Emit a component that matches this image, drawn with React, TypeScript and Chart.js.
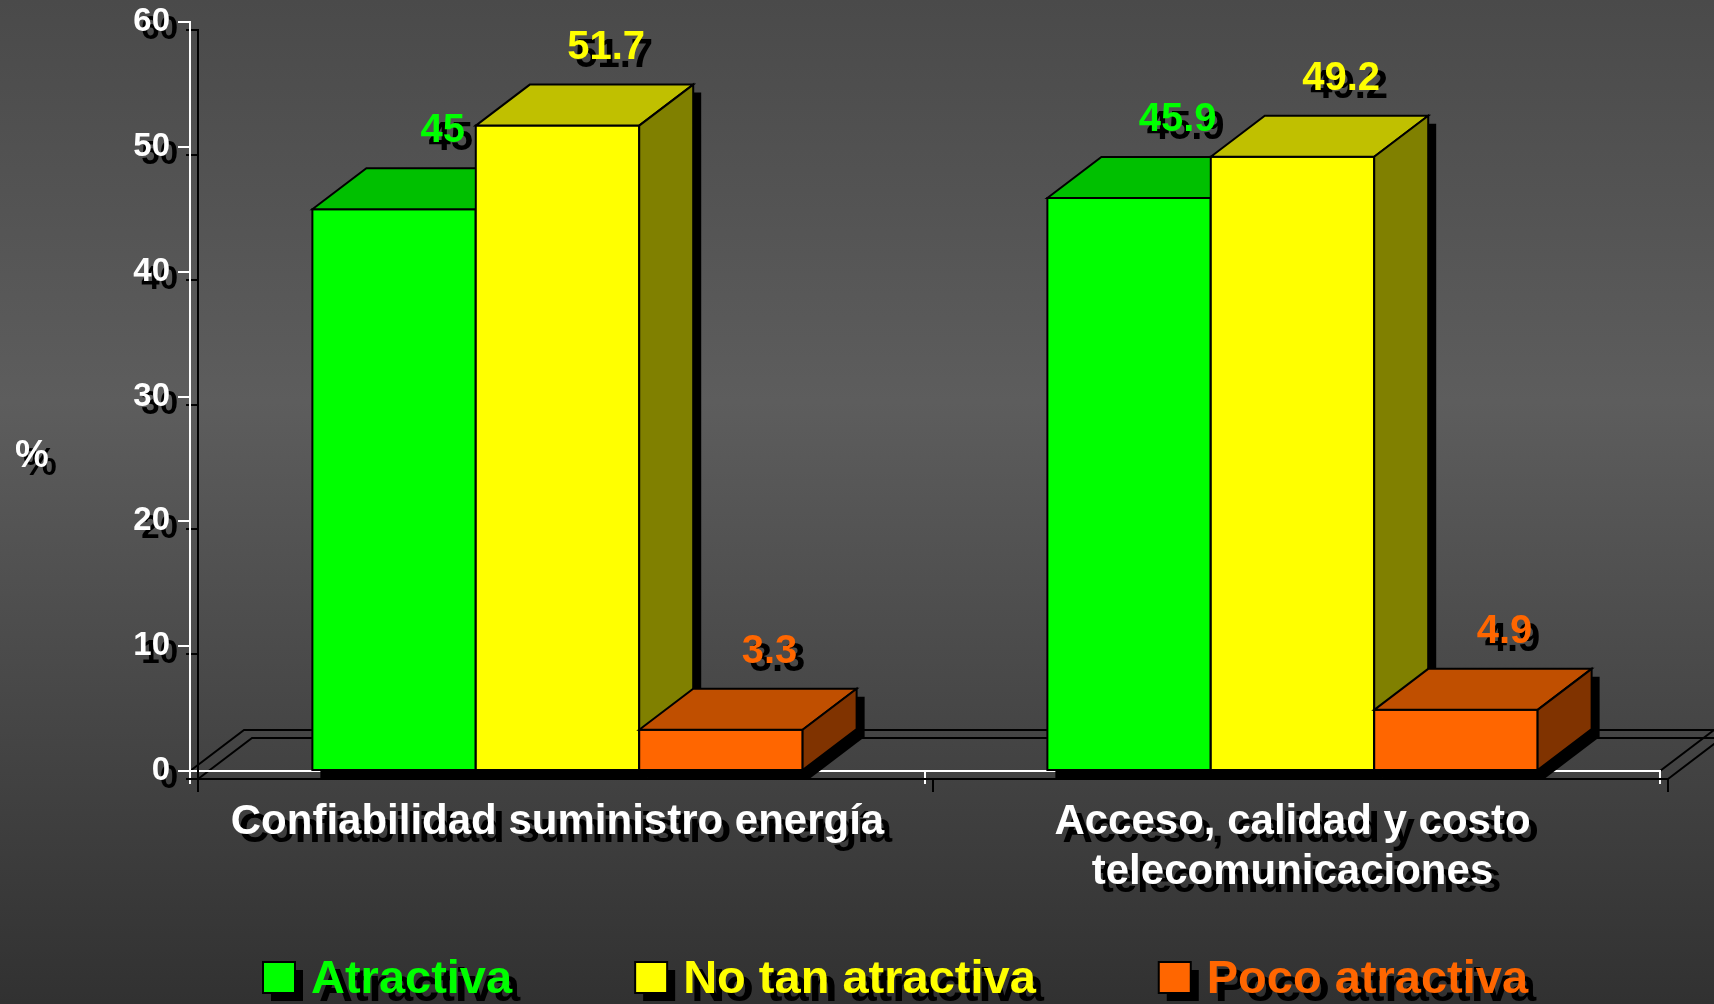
import React, { useEffect, useRef } from "react";
import { Chart, registerables } from "chart.js";

Chart.register(...registerables);

const categories: (string | string[])[] = [
  "Confiabilidad suministro energía",
  ["Acceso, calidad y costo", "telecomunicaciones"],
];
const seriesNames = ["Atractiva", "No tan atractiva", "Poco atractiva"];
const atractiva = [45, 45.9];
const noTanAtractiva = [51.7, 49.2];
const pocoAtractiva = [3.3, 4.9];
const yTicks = [0, 10, 20, 30, 40, 50, 60];

const frontColors = ["#00FF00", "#FFFF00", "#FF6600"];
const topColors = ["#00C000", "#C0C000", "#C04F00"];
const sideColors = ["#008000", "#808000", "#803300"];
const labelColors = ["#00FF00", "#FFFF00", "#FF6600"];

const FONT = "'Liberation Sans', Arial, sans-serif";
const DX = 54;
const DY = -41;
const SH = 8;

function setShadow(ctx: CanvasRenderingContext2D, on: boolean) {
  ctx.shadowColor = on ? "#000000" : "rgba(0,0,0,0)";
  ctx.shadowOffsetX = on ? SH : 0;
  ctx.shadowOffsetY = on ? SH : 0;
  ctx.shadowBlur = 0;
}

function poly(ctx: CanvasRenderingContext2D, pts: number[][], fill: string, stroke: boolean) {
  ctx.beginPath();
  ctx.moveTo(pts[0][0], pts[0][1]);
  for (let i = 1; i < pts.length; i++) ctx.lineTo(pts[i][0], pts[i][1]);
  ctx.closePath();
  ctx.fillStyle = fill;
  ctx.fill();
  if (stroke) {
    ctx.strokeStyle = "#000";
    ctx.lineWidth = 2;
    ctx.lineJoin = "miter";
    ctx.stroke();
  }
}

const stylePlugin = {
  id: "style3d",
  beforeDraw(chart: any) {
    const ctx: CanvasRenderingContext2D = chart.ctx;
    const { width, height, chartArea } = chart;
    const g = ctx.createLinearGradient(0, 0, 0, height);
    g.addColorStop(0, "#4a4a4a");
    g.addColorStop(0.4, "#5d5d5d");
    g.addColorStop(1, "#313131");
    ctx.save();
    setShadow(ctx, false);
    ctx.fillStyle = g;
    ctx.fillRect(0, 0, width, height);
    // floor
    const y0 = chart.scales.y.getPixelForValue(0);
    const L = chartArea.left;
    const R = chartArea.right;
    setShadow(ctx, true);
    ctx.strokeStyle = "#000";
    ctx.lineWidth = 2;
    ctx.beginPath();
    ctx.moveTo(L, y0);
    ctx.lineTo(L + DX, y0 + DY);
    ctx.lineTo(R + DX, y0 + DY);
    ctx.moveTo(R, y0);
    ctx.lineTo(R + DX, y0 + DY);
    ctx.stroke();
    ctx.restore();
    setShadow(ctx, true);
  },
  beforeDatasetsDraw(chart: any) {
    setShadow(chart.ctx, false);
  },
  afterDatasetsDraw(chart: any) {
    const ctx: CanvasRenderingContext2D = chart.ctx;
    const n = chart.data.labels.length;
    const nd = chart.data.datasets.length;
    ctx.save();
    for (let i = 0; i < n; i++) {
      const bars: any[] = [];
      for (let d = 0; d < nd; d++) {
        const el = chart.getDatasetMeta(d).data[i];
        bars.push(el.getProps(["x", "y", "base", "width"], true));
      }
      // shadows
      setShadow(ctx, false);
      bars.forEach((b) => {
        const L = b.x - b.width / 2 + SH;
        const R = b.x + b.width / 2 + SH;
        const T = b.y + SH;
        const B = b.base + SH;
        poly(ctx, [[L, T], [L + DX, T + DY], [R + DX, T + DY], [R + DX, B + DY], [R, B], [L, B]], "#000", false);
      });
      bars.forEach((b, d) => {
        const L = b.x - b.width / 2;
        const R = b.x + b.width / 2;
        const T = b.y;
        const B = b.base;
        poly(ctx, [[L, T], [R, T], [R, B], [L, B]], frontColors[d], true);
        poly(ctx, [[L, T], [L + DX, T + DY], [R + DX, T + DY], [R, T]], topColors[d], true);
        poly(ctx, [[R, T], [R + DX, T + DY], [R + DX, B + DY], [R, B]], sideColors[d], true);
      });
      // value labels
      setShadow(ctx, true);
      ctx.font = `bold 40px ${FONT}`;
      ctx.textAlign = "center";
      ctx.textBaseline = "alphabetic";
      bars.forEach((b, d) => {
        const v = chart.data.datasets[d].data[i];
        ctx.fillStyle = labelColors[d];
        ctx.fillText(String(v), b.x + DX * 0.9, b.y + DY - 26);
      });
    }
    ctx.restore();
    setShadow(ctx, true);
  },
  afterDraw(chart: any) {
    const ctx: CanvasRenderingContext2D = chart.ctx;
    ctx.save();
    setShadow(ctx, true);
    // y title
    ctx.font = `bold 38px ${FONT}`;
    ctx.fillStyle = "#FFFFFF";
    ctx.textAlign = "left";
    ctx.textBaseline = "alphabetic";
    ctx.fillText("%", 15, 467);
    // legend
    ctx.font = `bold 47px ${FONT}`;
    const boxW = 32;
    const boxH = 31;
    const gapText = 16;
    const gapItem = 123;
    const widths = chart.data.datasets.map((ds: any) => boxW + gapText + ctx.measureText(ds.label).width);
    let x = 263;
    const baseline = 993;
    chart.data.datasets.forEach((ds: any, d: number) => {
      setShadow(ctx, true);
      ctx.fillStyle = frontColors[d];
      ctx.fillRect(x, 962, boxW, boxH);
      setShadow(ctx, false);
      ctx.strokeStyle = "#000";
      ctx.lineWidth = 2;
      ctx.strokeRect(x, 962, boxW, boxH);
      setShadow(ctx, true);
      ctx.fillStyle = labelColors[d];
      ctx.fillText(ds.label, x + boxW + gapText, baseline);
      x += widths[d] + gapItem;
    });
    ctx.restore();
    setShadow(ctx, false);
  },
};

export default function App() {
  const ref = useRef<HTMLCanvasElement | null>(null);
  useEffect(() => {
    if (!ref.current) return;
    const chart = new Chart(ref.current, {
      type: "bar",
      data: {
        labels: categories as any,
        datasets: [
          { label: seriesNames[0], data: atractiva, backgroundColor: "rgba(0,0,0,0)", borderWidth: 0 },
          { label: seriesNames[1], data: noTanAtractiva, backgroundColor: "rgba(0,0,0,0)", borderWidth: 0 },
          { label: seriesNames[2], data: pocoAtractiva, backgroundColor: "rgba(0,0,0,0)", borderWidth: 0 },
        ],
      },
      options: {
        responsive: false,
        animation: false,
        events: [],
        layout: { padding: { left: 0, top: 22, right: 54, bottom: 0 } },
        datasets: { bar: { categoryPercentage: 0.667, barPercentage: 1 } },
        plugins: { legend: { display: false }, tooltip: { enabled: false }, title: { display: false } },
        scales: {
          x: {
            z: 1,
            grid: { display: true, offset: true, drawOnChartArea: false, tickLength: 13, color: "#FFFFFF", lineWidth: 2 },
            border: { display: true, color: "#FFFFFF", width: 2 },
            ticks: { color: "#FFFFFF", font: { family: FONT, size: 42, weight: "bold", lineHeight: 1.2 }, padding: 13, maxRotation: 0, autoSkip: false },
            afterFit: (s: any) => { s.height = 233; s.paddingLeft = 0; s.paddingRight = 0; },
          },
          y: {
            z: 1,
            min: 0,
            max: 60,
            afterBuildTicks: (s: any) => { s.ticks = yTicks.map((v) => ({ value: v })); },
            grid: { display: true, drawOnChartArea: false, tickLength: 12, color: "#FFFFFF", lineWidth: 2 },
            border: { display: true, color: "#FFFFFF", width: 2 },
            ticks: { color: "#FFFFFF", font: { family: FONT, size: 33, weight: "bold" }, padding: 8 },
            afterFit: (s: any) => { s.width = 190; s.paddingTop = 0; s.paddingBottom = 0; },
          },
        },
      },
      plugins: [stylePlugin],
    } as any);
    return () => chart.destroy();
  }, []);
  return (
    <div style={{ position: "fixed", left: 0, top: 0, width: 1714, height: 1004, background: "#444" }}>
      <canvas ref={ref} width={1714} height={1004} style={{ display: "block" }} />
    </div>
  );
}
